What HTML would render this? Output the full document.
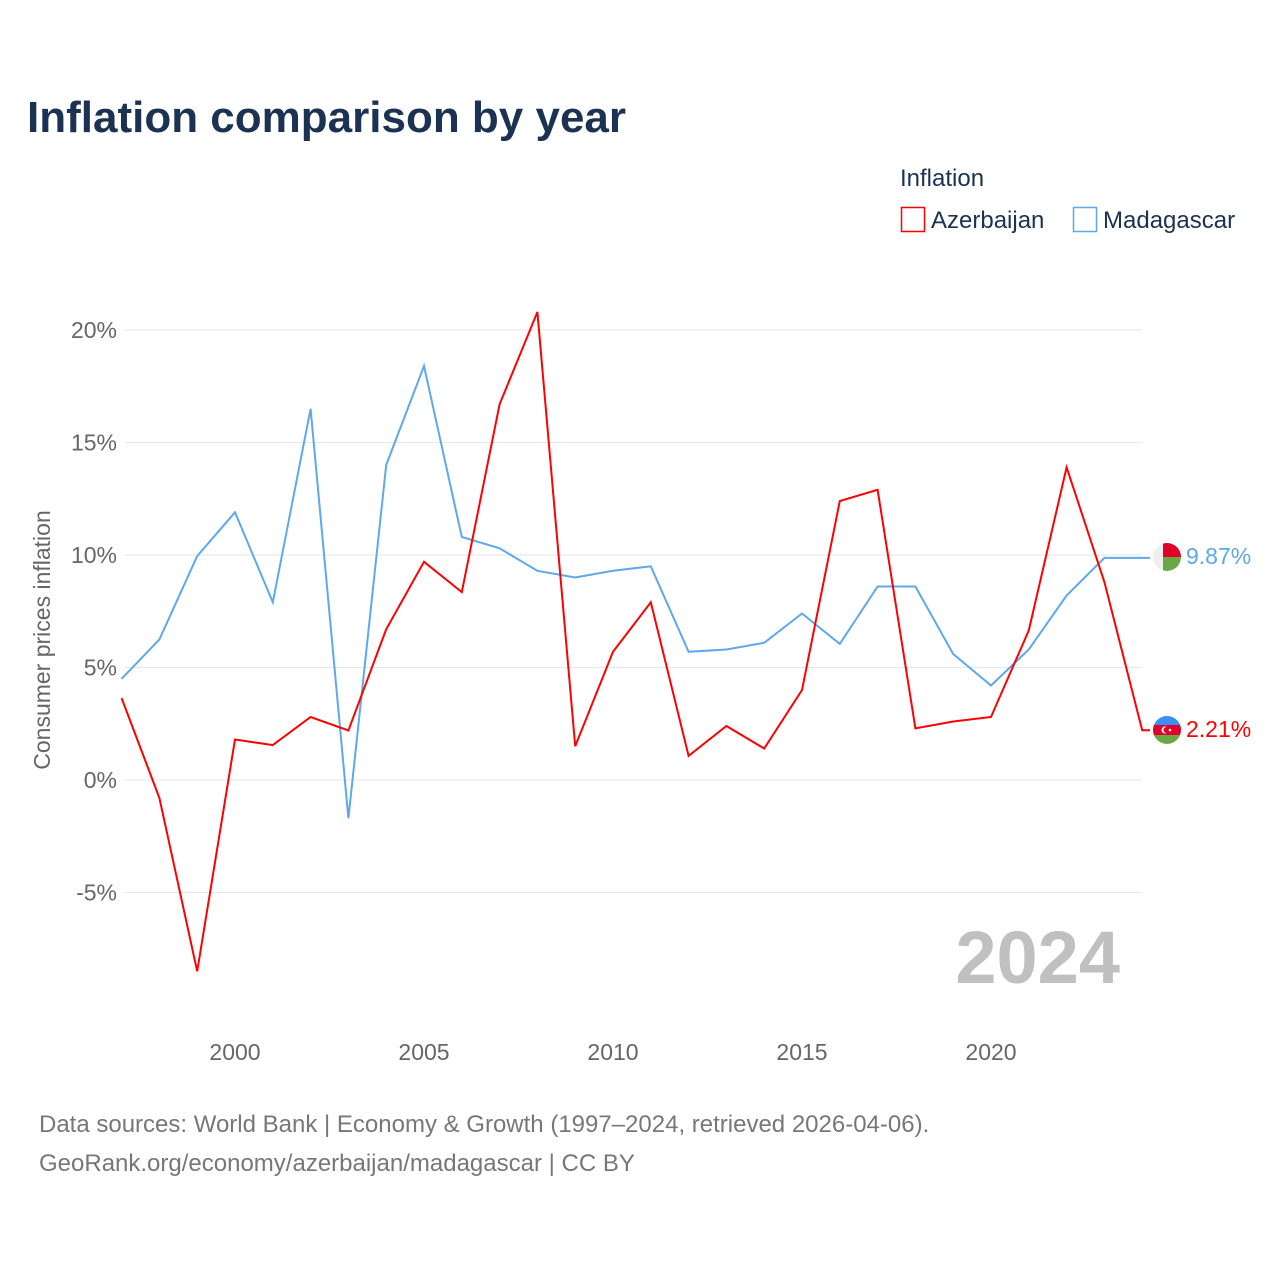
<!DOCTYPE html>
<html><head><meta charset="utf-8"><style>
body{margin:0;background:#fff;font-family:"Liberation Sans",sans-serif;}
svg text{font-family:"Liberation Sans",sans-serif;}
</style></head><body>
<svg id="chart" width="1280" height="1280" viewBox="0 0 1280 1280">
<text x="27" y="132" font-size="44" font-weight="bold" fill="#1b3252">Inflation comparison by year</text>
<text x="900" y="186" font-size="24" fill="#1b3252">Inflation</text>
<g><rect x="901.5" y="207.5" width="23" height="24" fill="none" stroke="#f00" stroke-width="1.5"/><text x="931" y="228" font-size="24" fill="#1b3252">Azerbaijan</text></g>
<g><rect x="1073.5" y="207.5" width="23" height="24" fill="none" stroke="#5ea8ec" stroke-width="1.5"/><text x="1103" y="228" font-size="24" fill="#1b3252">Madagascar</text></g>
<text transform="translate(50,640) rotate(-90)" text-anchor="middle" font-size="23" fill="#666">Consumer prices inflation</text>
<g id="grid"></g><g id="xt"></g>
<text x="1120" y="983" text-anchor="end" font-size="74" font-weight="bold" fill="#c0c0c0">2024</text>
<g id="lines"></g>
<g>
<clipPath id="c1"><circle cx="1167" cy="557" r="14"/></clipPath>
<g clip-path="url(#c1)"><rect x="1153" y="543" width="10" height="28" fill="#eee"/><rect x="1163" y="543" width="20" height="14" fill="#e0002a"/><rect x="1163" y="557" width="20" height="14" fill="#6aa845"/></g></g>
<text x="1186" y="564" font-size="23" fill="#5ea8ec">9.87%</text>
<g>
<clipPath id="c2"><circle cx="1167" cy="730" r="14"/></clipPath>
<g clip-path="url(#c2)"><rect x="1153" y="716" width="28" height="10" fill="#3a8ff0"/><rect x="1153" y="725" width="28" height="10" fill="#e0002a"/><rect x="1153" y="735" width="28" height="10" fill="#6aa845"/><circle cx="1165" cy="730" r="3.5" fill="#fff"/><circle cx="1166.5" cy="730" r="3" fill="#e0002a"/><circle cx="1170" cy="730" r="1.3" fill="#fff"/></g></g>
<text x="1186" y="737" font-size="23" fill="#f00">2.21%</text>
<text x="39" y="1132" font-size="24" fill="#777">Data sources: World Bank | Economy &amp; Growth (1997–2024, retrieved 2026-04-06).</text>
<text x="39" y="1171" font-size="24" fill="#777">GeoRank.org/economy/azerbaijan/madagascar | CC BY</text>
</svg>
<script>
const years=[1997,1998,1999,2000,2001,2002,2003,2004,2005,2006,2007,2008,2009,2010,2011,2012,2013,2014,2015,2016,2017,2018,2019,2020,2021,2022,2023,2024];
const azerbaijan=[3.64,-0.8,-8.5,1.8,1.55,2.8,2.2,6.7,9.7,8.35,16.7,20.8,1.5,5.7,7.9,1.07,2.4,1.4,4.0,12.4,12.9,2.3,2.6,2.8,6.65,13.9,8.8,2.21];
const madagascar=[4.5,6.25,9.95,11.9,7.9,16.5,-1.7,14.0,18.4,10.8,10.3,9.3,9.0,9.3,9.5,5.7,5.8,6.1,7.4,6.05,8.6,8.6,5.6,4.2,5.8,8.2,9.87,9.87];
const yTicks=[-5,0,5,10,15,20];
const yTickLabels=["-5%","0%","5%","10%","15%","20%"];
const xTicks=[2000,2005,2010,2015,2020];
const ns="http://www.w3.org/2000/svg";
function X(y){return 235+(y-2000)*37.8;}
function Y(v){return 780-v*22.5;}
const g=document.getElementById('grid');
yTicks.forEach((t,i)=>{
 const l=document.createElementNS(ns,'line');
 
 
 l.setAttribute('x1',125);l.setAttribute('x2',1142);l.setAttribute('y1',Y(t));l.setAttribute('y2',Y(t));l.setAttribute('stroke','#e6e6e6');
 g.appendChild(l);
 const tx=document.createElementNS(ns,'text');
 
 
 tx.setAttribute('x',117);tx.setAttribute('y',Y(t)+8);tx.setAttribute('text-anchor','end');tx.setAttribute('font-size','23');tx.setAttribute('fill','#666');
 tx.textContent=yTickLabels[i];g.appendChild(tx);
});
const xt=document.getElementById('xt');
xTicks.forEach(t=>{
 const tx=document.createElementNS(ns,'text');
 
 
 tx.setAttribute('x',X(t));tx.setAttribute('y',1060);tx.setAttribute('text-anchor','middle');tx.setAttribute('font-size','23');tx.setAttribute('fill','#666');
 tx.textContent=t;xt.appendChild(tx);
});
const lg=document.getElementById('lines');
function draw(vals,color,name){
 let d=vals.map((v,i)=>(i?'L':'M')+X(years[i]).toFixed(1)+','+Y(v).toFixed(1)).join(' ');
 d+=' L1150,'+Y(vals[vals.length-1]).toFixed(1);
 const p=document.createElementNS(ns,'path');
 
 
 p.setAttribute('d',d);p.setAttribute('fill','none');p.setAttribute('stroke',color);p.setAttribute('stroke-width','2');
 lg.appendChild(p);
}
draw(madagascar,'#5ea8ec','line-madagascar');
draw(azerbaijan,'#f00','line-azerbaijan');
</script>
</body></html>
